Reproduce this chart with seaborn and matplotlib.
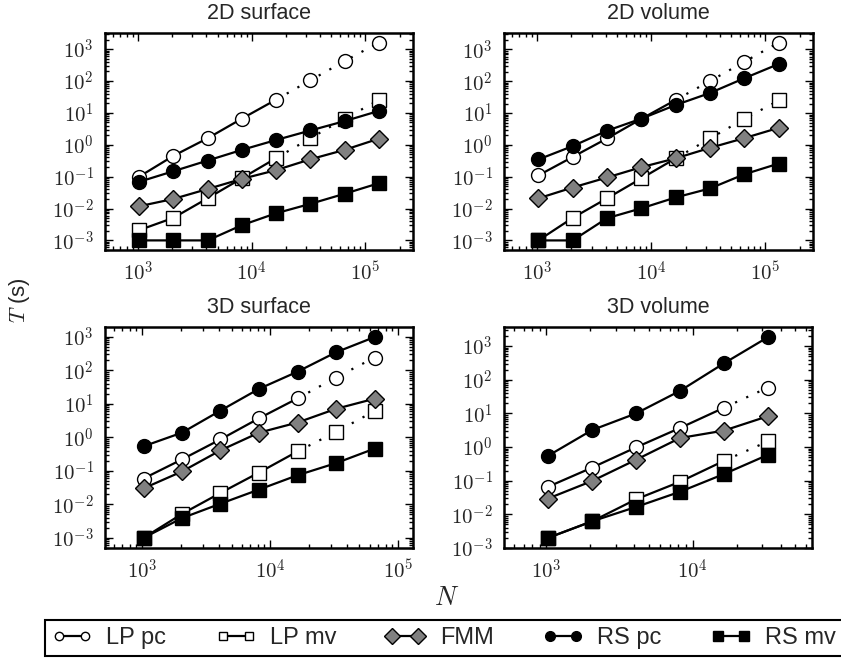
import numpy as np
import matplotlib
matplotlib.use("Agg")
import matplotlib.pyplot as plt
import seaborn as sns
from matplotlib.lines import Line2D
from matplotlib.ticker import FixedLocator, FuncFormatter, LogLocator, NullFormatter

# ---------------- data ----------------
N_all = [1024, 2048, 4096, 8192, 16384, 32768, 65536, 131072]
series_names = ["LP pc", "LP mv", "FMM", "RS pc", "RS mv"]
panel_titles = ["2D surface", "2D volume", "3D surface", "3D volume"]

# 2D surface
lp_pc_2s = [0.10, 0.45, 1.6, 6.6, 26, 105, 420, 1600]
lp_mv_2s = [0.0021, 0.0051, 0.021, 0.089, 0.38, 1.6, 6.6, 25]
fmm_2s = [0.0118, 0.020, 0.041, 0.085, 0.16, 0.35, 0.69, 1.55]
rs_pc_2s = [0.069, 0.148, 0.32, 0.69, 1.41, 2.8, 5.5, 11.5]
rs_mv_2s = [0.001, 0.001, 0.001, 0.0030, 0.0071, 0.014, 0.029, 0.062]

# 2D volume
lp_pc_2v = [0.11, 0.42, 1.6, 6.6, 26, 102, 410, 1650]
lp_mv_2v = [0.001, 0.0051, 0.021, 0.089, 0.38, 1.6, 6.6, 25]
fmm_2v = [0.021, 0.046, 0.095, 0.20, 0.38, 0.81, 1.64, 3.45]
rs_pc_2v = [0.35, 0.92, 2.8, 6.7, 18, 43, 125, 350]
rs_mv_2v = [0.001, 0.001, 0.005, 0.0102, 0.0224, 0.043, 0.12, 0.26]

# 3D surface
lp_pc_3s = [0.059, 0.22, 0.87, 3.7, 14.5, 61, 240]
lp_mv_3s = [0.001, 0.0052, 0.022, 0.089, 0.38, 1.45, 6.1]
fmm_3s = [0.030, 0.096, 0.41, 1.38, 2.77, 7.1, 14.2]
rs_pc_3s = [0.54, 1.38, 6.3, 28, 91, 345, 980]
rs_mv_3s = [0.001, 0.0039, 0.0105, 0.0277, 0.074, 0.17, 0.46]

# 3D volume
lp_pc_3v = [0.066, 0.245, 0.98, 3.7, 14.8, 59]
lp_mv_3v = [0.002, 0.0062, 0.028, 0.093, 0.39, 1.48]
fmm_3v = [0.0295, 0.098, 0.42, 1.86, 3.1, 8.3]
rs_pc_3v = [0.55, 3.2, 10, 47, 310, 1860]
rs_mv_3v = [0.002, 0.0062, 0.0166, 0.047, 0.158, 0.59]

# last N measured (solid); beyond it the LP curves are dotted (extrapolated)
lp_last_measured = 16384

panels = [
    [lp_pc_2s, lp_mv_2s, fmm_2s, rs_pc_2s, rs_mv_2s],
    [lp_pc_2v, lp_mv_2v, fmm_2v, rs_pc_2v, rs_mv_2v],
    [lp_pc_3s, lp_mv_3s, fmm_3s, rs_pc_3s, rs_mv_3s],
    [lp_pc_3v, lp_mv_3v, fmm_3v, rs_pc_3v, rs_mv_3v],
]

# ---------------- style ----------------
sns.set_style("ticks")
plt.rcParams['font.family'] = ['Liberation Sans', 'DejaVu Sans']
plt.rcParams['mathtext.fontset'] = 'cm'

styles = {
    "LP pc": dict(marker='o', markerfacecolor='white', markersize=10),
    "LP mv": dict(marker='s', markerfacecolor='white', markersize=9.5),
    "FMM": dict(marker='D', markerfacecolor='#808080', markersize=9.5),
    "RS pc": dict(marker='o', markerfacecolor='black', markersize=10),
    "RS mv": dict(marker='s', markerfacecolor='black', markersize=9.5),
}
dotted_series = {"LP pc", "LP mv"}
LW = 1.6

W, H = 841, 658
fig = plt.figure(figsize=(W / 100, H / 100), dpi=100)
rects = [
    [105 / W, 1 - 250 / H, 308 / W, 217 / H],
    [504 / W, 1 - 250 / H, 309 / W, 217 / H],
    [105 / W, 1 - 548 / H, 308 / W, 221 / H],
    [504 / W, 1 - 548 / H, 308 / W, 221 / H],
]

fmt = FuncFormatter(lambda v, p: r'$10^{%d}$' % int(round(np.log10(v))))

for pi, (rect, title, data) in enumerate(zip(rects, panel_titles, panels)):
    ax = fig.add_axes(rect)
    ax.set_xscale('log')
    ax.set_yscale('log')
    npts = len(data[0])
    N = np.array(N_all[:npts], dtype=float)
    all_vals = np.concatenate([np.array(d, dtype=float) for d in data])
    for name, vals in zip(series_names, data):
        T = np.array(vals, dtype=float)
        st = styles[name]
        common = dict(color='black', linewidth=LW, markeredgecolor='black',
                      markeredgewidth=1.0, estimator=None, sort=False, ax=ax,
                      marker=st['marker'], markerfacecolor=st['markerfacecolor'],
                      markersize=st['markersize'])
        if name in dotted_series and N.max() > lp_last_measured:
            k = int(np.searchsorted(N, lp_last_measured))
            sns.lineplot(x=N[k:], y=T[k:], linestyle=(0, (1, 4.5)),
                         markevery=list(range(1, npts - k)), **common)
            sns.lineplot(x=N[:k + 1], y=T[:k + 1], linestyle='-', **common)
        else:
            sns.lineplot(x=N, y=T, linestyle='-', **common)

    ax.set_xlim(N[0] / 2, N[-1] * 2)
    ymin = all_vals.min() / 2
    ax.set_ylim(ymin * 0.9999, all_vals.max() * 2)
    ax.set_title(title, fontsize=15.5, pad=10)
    ax.set_xlabel('')
    ax.set_ylabel('')

    xt = [10.0 ** e for e in range(3, 6) if 10.0 ** e <= N[-1] * 2]
    ax.xaxis.set_major_locator(FixedLocator(xt))
    ax.yaxis.set_major_locator(FixedLocator([10.0 ** e for e in range(-3, 4)]))
    ax.xaxis.set_minor_locator(LogLocator(base=10, subs=np.arange(2, 10), numticks=30))
    ax.yaxis.set_minor_locator(LogLocator(base=10, subs=np.arange(2, 10), numticks=30))
    ax.xaxis.set_minor_formatter(NullFormatter())
    ax.yaxis.set_minor_formatter(NullFormatter())
    ax.xaxis.set_major_formatter(fmt)
    ax.yaxis.set_major_formatter(fmt)
    ax.tick_params(which='both', direction='in', top=True, right=True,
                   color='black', width=1.0)
    ax.tick_params(which='major', length=6, labelsize=15, pad=8)
    ax.tick_params(which='minor', length=3)
    for sp in ax.spines.values():
        sp.set_linewidth(1.8)
        sp.set_color('black')
        sp.set_visible(True)
    if ax.get_legend() is not None:
        ax.get_legend().remove()

fig.text(20 / W, 1 - 300 / H, '$T$ (s)', rotation=90, ha='center', va='center', fontsize=16)
fig.text(447 / W, 1 - 598 / H, '$N$', ha='center', va='center', fontsize=19)

legend_ms = {"LP pc": 6.0, "LP mv": 6.0, "FMM": 8.0, "RS pc": 7.0, "RS mv": 7.5}
handles = []
for name in series_names:
    st = styles[name]
    handles.append(Line2D([], [], color='black', linewidth=LW, marker=st['marker'],
                          markerfacecolor=st['markerfacecolor'], markeredgecolor='black',
                          markeredgewidth=1.0, markersize=legend_ms[name]))
leg = fig.legend(handles, series_names, loc='lower left', bbox_to_anchor=(45 / W, 2 / H),
                 ncol=5, frameon=True, fancybox=False, edgecolor='black', framealpha=1,
                 fontsize=17, handlelength=1.7, handletextpad=0.6, columnspacing=2.08,
                 borderpad=0.3, numpoints=2, borderaxespad=0)
leg.get_frame().set_linewidth(1.5)

fig.savefig('out.png', dpi=100)
